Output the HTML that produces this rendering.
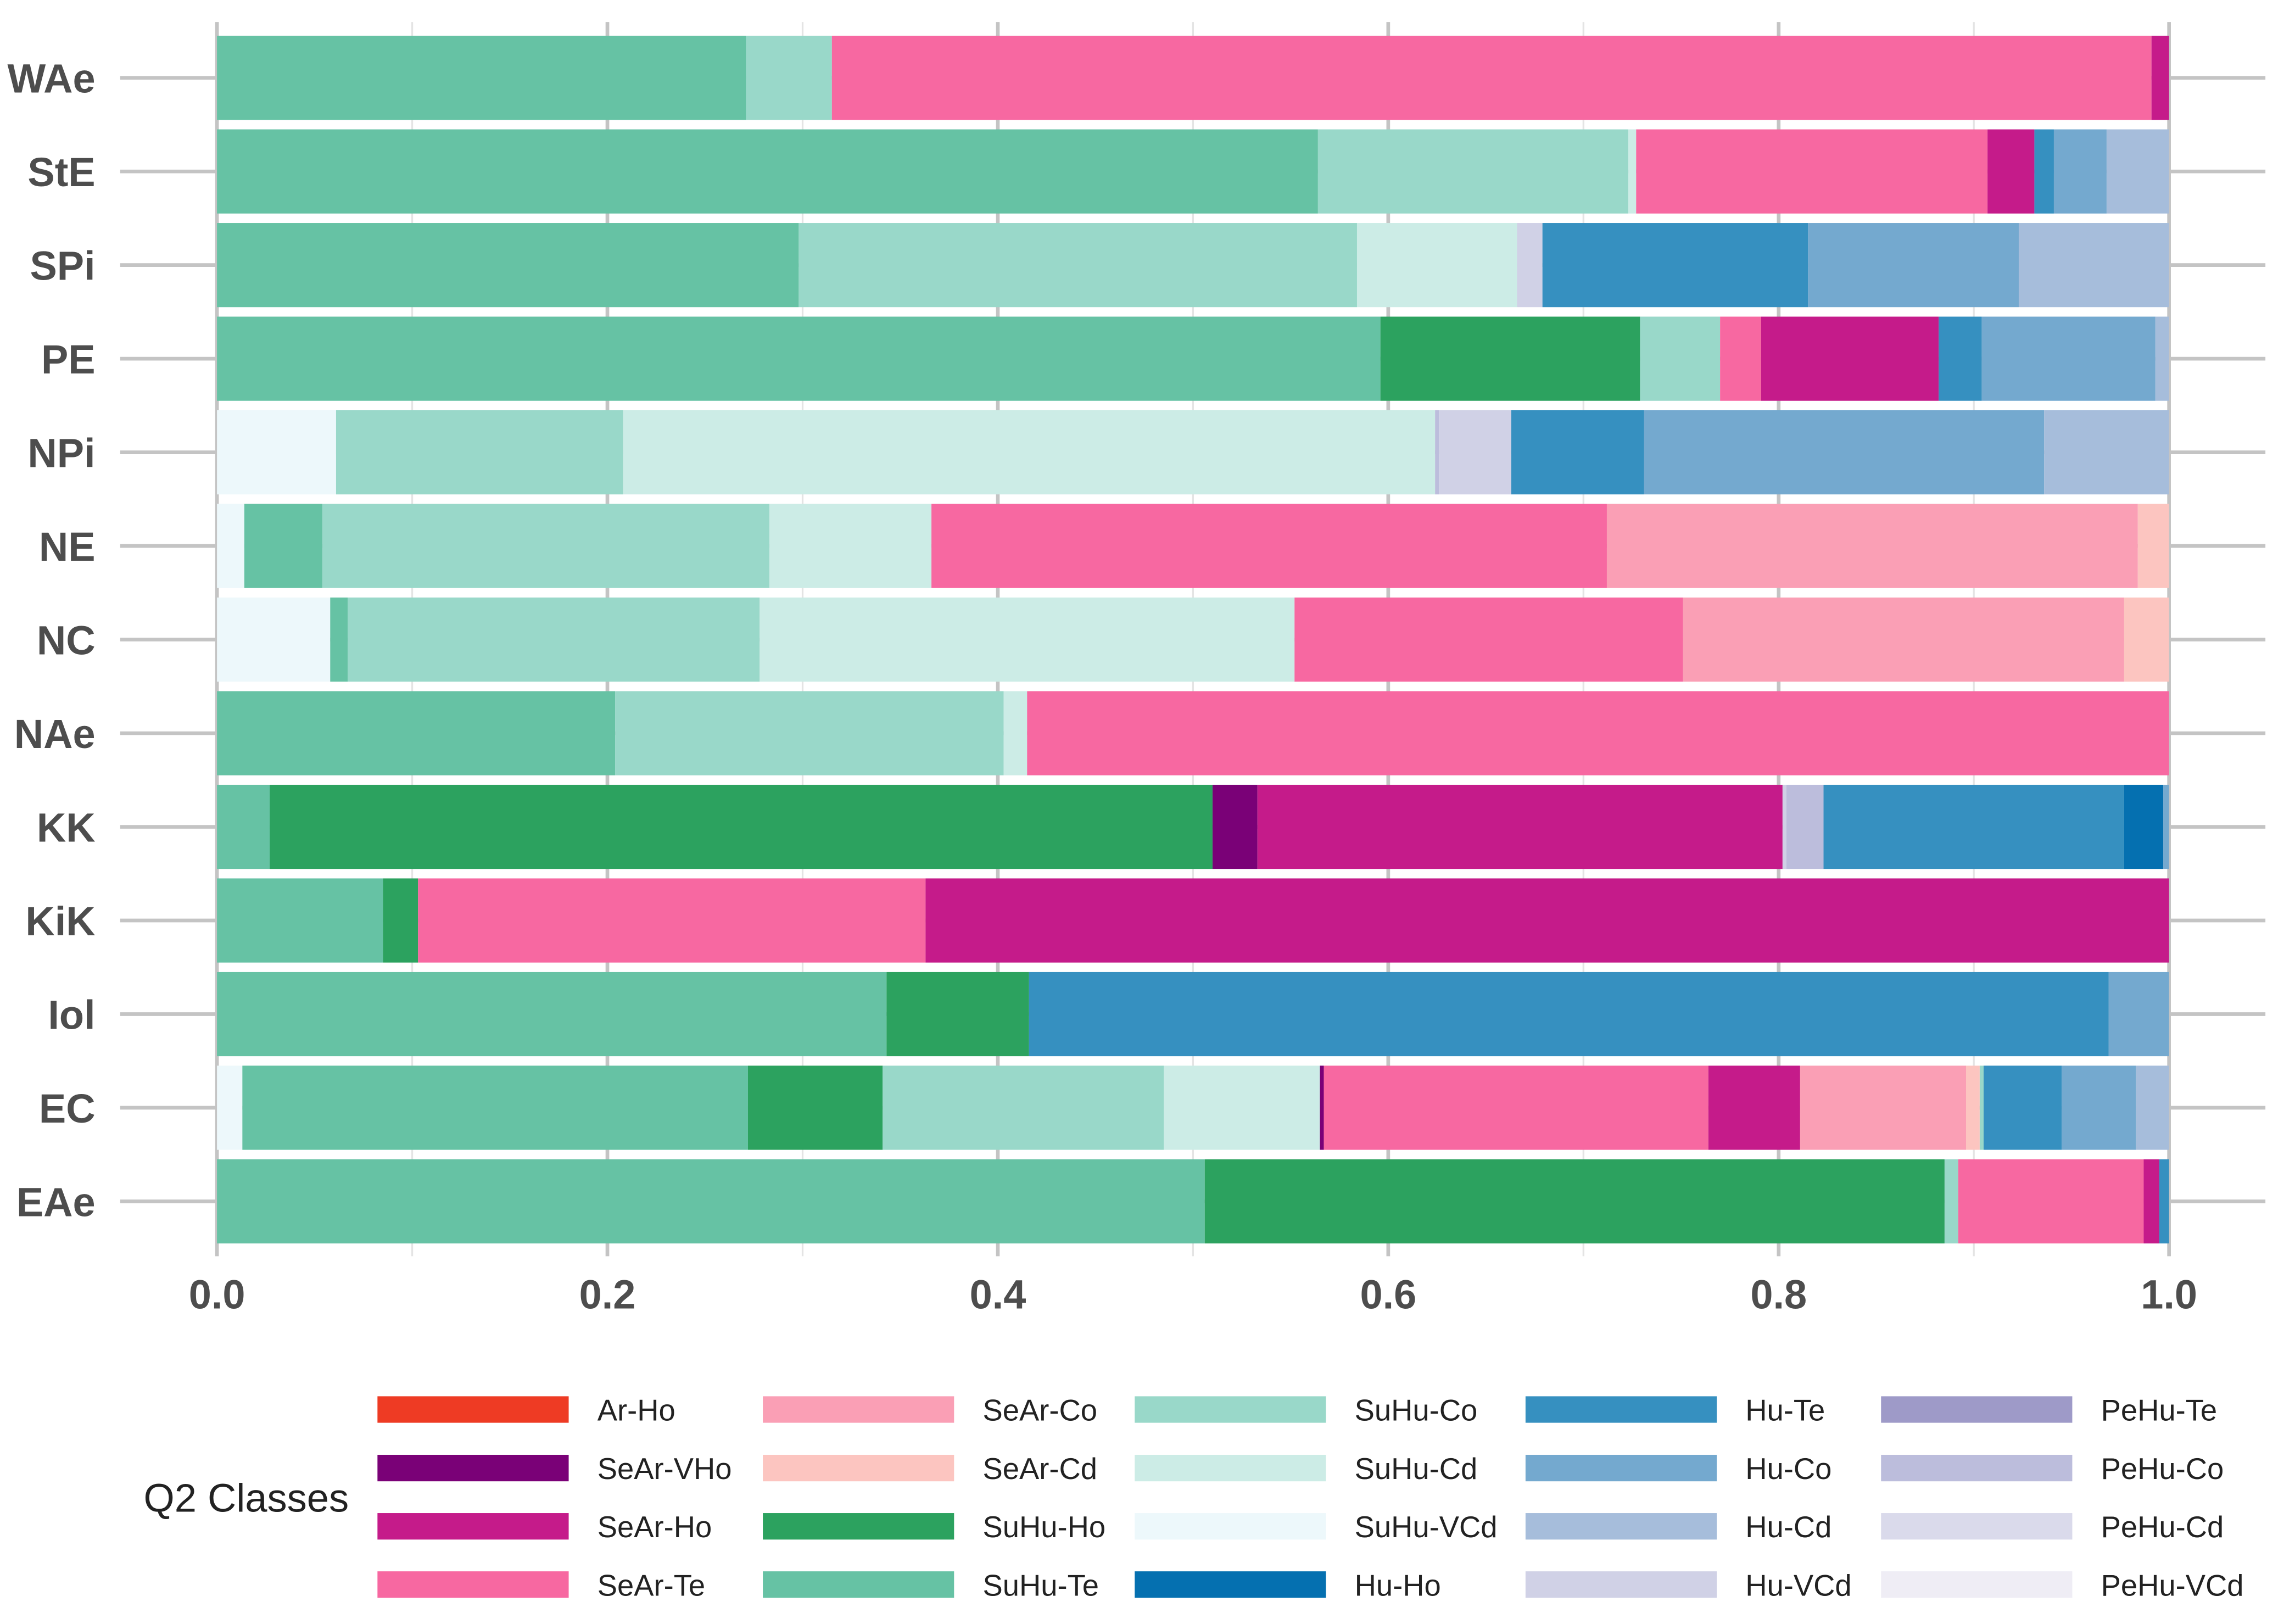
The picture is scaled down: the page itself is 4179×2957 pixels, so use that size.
<!DOCTYPE html>
<html><head><meta charset="utf-8"><style>
html,body{margin:0;padding:0;background:#fff}
svg{display:block}
text{font-family:"Liberation Sans",sans-serif}
</style></head><body>
<svg id="chart" width="4179" height="2957" viewBox="0 0 1560 1104" xmlns="http://www.w3.org/2000/svg">
<g id="grid"></g>
<g id="bars"></g>
<g id="ylabels"></g>
<g id="xlabels"></g>
<g id="legend">
<text x="97.5" y="1027.7" font-size="27" fill="#222">Q2 Classes</text>
</g>
</svg>
<script>
const categories = ["WAe","StE","SPi","PE","NPi","NE","NC","NAe","KK","KiK","Iol","EC","EAe"];
const segClasses = [
 ["SuHu-Te","SuHu-Co","SeAr-Te","SeAr-Ho"],
 ["SuHu-Te","SuHu-Co","SuHu-Cd","SeAr-Te","SeAr-Ho","Hu-Te","Hu-Co","Hu-Cd"],
 ["SuHu-Te","SuHu-Co","SuHu-Cd","Hu-VCd","Hu-Te","Hu-Co","Hu-Cd"],
 ["SuHu-Te","SuHu-Ho","SuHu-Co","SeAr-Te","SeAr-Ho","Hu-Te","Hu-Co","Hu-Cd"],
 ["SuHu-VCd","SuHu-Co","SuHu-Cd","PeHu-Co","Hu-VCd","Hu-Te","Hu-Co","Hu-Cd"],
 ["SuHu-VCd","SuHu-Te","SuHu-Co","SuHu-Cd","SeAr-Te","SeAr-Co","SeAr-Cd"],
 ["SuHu-VCd","SuHu-Te","SuHu-Co","SuHu-Cd","SeAr-Te","SeAr-Co","SeAr-Cd"],
 ["SuHu-Te","SuHu-Co","SuHu-Cd","SeAr-Te"],
 ["SuHu-Te","SuHu-Ho","SeAr-VHo","SeAr-Ho","Hu-VCd","PeHu-Co","Hu-Te","Hu-Ho","Hu-Co"],
 ["SuHu-Te","SuHu-Ho","SeAr-Te","SeAr-Ho"],
 ["SuHu-Te","SuHu-Ho","Hu-Te","Hu-Co"],
 ["SuHu-VCd","SuHu-Te","SuHu-Ho","SuHu-Co","SuHu-Cd","SeAr-VHo","SeAr-Te","SeAr-Ho","SeAr-Co","SeAr-Cd","SuHu-Co","Hu-Te","Hu-Co","Hu-Cd"],
 ["SuHu-Te","SuHu-Ho","SuHu-Co","SeAr-Te","SeAr-Ho","Hu-Te"]
];
const segValues = [
 [.271,.044,.676,.009],
 [.564,.159,.004,.180,.024,.010,.027,.032],
 [.298,.286,.082,.013,.136,.108,.077],
 [.596,.133,.041,.021,.091,.022,.089,.007],
 [.061,.147,.416,.002,.037,.068,.205,.064],
 [.014,.040,.229,.083,.346,.272,.016],
 [.058,.009,.211,.274,.199,.226,.023],
 [.204,.199,.012,.585],
 [.027,.483,.023,.269,.002,.019,.154,.020,.003],
 [.085,.018,.260,.637],
 [.343,.073,.553,.031],
 [.013,.259,.069,.144,.080,.002,.197,.047,.085,.007,.002,.040,.038,.017],
 [.506,.379,.007,.095,.008,.005]
];
const xTicks = [0,0.2,0.4,0.6,0.8,1.0];
const xTickLabels = ["0.0","0.2","0.4","0.6","0.8","1.0"];
const legendClasses = ["Ar-Ho","SeAr-VHo","SeAr-Ho","SeAr-Te","SeAr-Co","SeAr-Cd","SuHu-Ho","SuHu-Te","SuHu-Co","SuHu-Cd","SuHu-VCd","Hu-Ho","Hu-Te","Hu-Co","Hu-Cd","Hu-VCd","PeHu-Te","PeHu-Co","PeHu-Cd","PeHu-VCd"];
const colors = {"Ar-Ho":"#ee3b24","SeAr-VHo":"#7a0177","SeAr-Ho":"#c51b8a","SeAr-Te":"#f768a1","SeAr-Co":"#fa9fb5","SeAr-Cd":"#fcc5c0","SuHu-Ho":"#2ca25f","SuHu-Te":"#66c2a4","SuHu-Co":"#99d8c9","SuHu-Cd":"#ccece6","SuHu-VCd":"#edf8fb","Hu-Ho":"#0570b0","Hu-Te":"#3690c0","Hu-Co":"#74a9cf","Hu-Cd":"#a6bddb","Hu-VCd":"#d0d1e6","PeHu-Te":"#9e9ac8","PeHu-Co":"#bcbddc","PeHu-Cd":"#dadaeb","PeHu-VCd":"#efedf5"};

const NS="http://www.w3.org/2000/svg";
const X0=147.4, X1=1474.5;
const xs = v => X0 + v*(X1-X0);
const yc = i => 52.9 + i*63.65;
const BH = 57.2;
function mk(tag, attrs, parent){const e=document.createElementNS(NS,tag);for(const k in attrs)e.setAttribute(k,attrs[k]);parent.appendChild(e);return e;}
const grid=document.getElementById('grid'), bars=document.getElementById('bars');
const yl=document.getElementById('ylabels'), xl=document.getElementById('xlabels'), lg=document.getElementById('legend');
for(let k=1;k<10;k+=2){const l=mk('line',{x1:xs(k/10),x2:xs(k/10),y1:15,y2:854,stroke:'#e4e4e4','stroke-width':1.2},grid);

}
xTicks.forEach((t,i)=>{const l=mk('line',{x1:xs(t),x2:xs(t),y1:15,y2:854,stroke:'#c4c4c4','stroke-width':2.5},grid);


const tx=mk('text',{x:xs(t),y:889.6,'text-anchor':'middle','font-size':27.6,'font-weight':'bold',fill:'#4d4d4d'},xl);tx.textContent=xTickLabels[i];

});
categories.forEach((c,i)=>{const y=yc(i);
const l=mk('line',{x1:81.6,x2:1540,y1:y,y2:y,stroke:'#c4c4c4','stroke-width':2.5},grid);


const t=mk('text',{x:64.7,y:y+10,'text-anchor':'end','font-size':27.6,'font-weight':'bold',fill:'#4d4d4d'},yl);t.textContent=c;


let cum=0;
segValues[i].forEach((v,j)=>{const cls=segClasses[i][j];
const r=mk('rect',{x:xs(cum),y:y-BH/2,width:Math.max(0,xs(cum+v)-xs(cum)),height:BH,fill:colors[cls]},bars);


cum+=v;});
});
const colX=[256.5,518.5,771.3,1037,1278.7], rowY=[958.2,998,1037.6,1077.2];
legendClasses.forEach((cls,k)=>{const col=Math.floor(k/4),row=k%4;
const r=mk('rect',{x:colX[col],y:rowY[row]-9,width:130,height:18,fill:colors[cls]},lg);


const t=mk('text',{x:colX[col]+149.5,y:rowY[row]+7.5,'font-size':20.3,fill:'#222'},lg);t.textContent=cls;

});
</script>
</body></html>
